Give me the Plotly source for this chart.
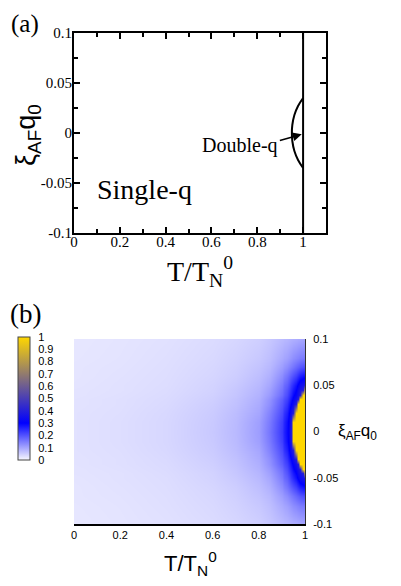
import plotly.graph_objects as go

# ---------------- data ----------------
# panel (a): phase boundary
line_T = [1.0, 1.0]
line_xi = [-0.1, 0.1]
bulge_T = [1.0, 0.978, 0.962, 0.953, 0.951, 0.953, 0.962, 0.978, 1.0]
bulge_xi = [0.035, 0.027, 0.018, 0.008, 0.0, -0.008, -0.018, -0.027, -0.035]

xa_tickvals = [0, 0.2, 0.4, 0.6, 0.8, 1.0]
xa_ticktext = ["0", "0.2", "0.4", "0.6", "0.8", "1"]
ya_tickvals = [-0.1, -0.05, 0, 0.05, 0.1]
ya_ticktext = ["-0.1", "-0.05", "0", "0.05", "0.1"]

# panel (b): heat map (upper half in xi, mirrored about xi = 0)
T_grid = [0, 0.2, 0.4, 0.6, 0.7, 0.8, 0.85, 0.9, 0.91, 0.92, 0.93, 0.94,
          0.95, 0.96, 0.97, 0.98, 0.99, 1.0]
xi_half = [0, 0.01, 0.02, 0.03, 0.035, 0.04, 0.045, 0.05, 0.06, 0.07, 0.08, 0.1]
z_xi_000 = [0.027, 0.032, 0.040, 0.058, 0.076, 0.110, 0.160, 0.230, 0.260, 0.290, 0.330, 0.400, 1, 1, 1, 1, 1, 1]
z_xi_010 = [0.027, 0.032, 0.040, 0.057, 0.075, 0.108, 0.155, 0.225, 0.255, 0.285, 0.320, 0.390, 1, 1, 1, 1, 1, 1]
z_xi_020 = [0.027, 0.031, 0.039, 0.055, 0.072, 0.100, 0.145, 0.210, 0.240, 0.265, 0.300, 0.350, 0.400, 1, 1, 1, 1, 1]
z_xi_030 = [0.026, 0.030, 0.037, 0.052, 0.067, 0.093, 0.130, 0.195, 0.215, 0.240, 0.270, 0.300, 0.340, 0.400, 1, 1, 1, 1]
z_xi_035 = [0.026, 0.030, 0.036, 0.050, 0.065, 0.089, 0.125, 0.185, 0.205, 0.225, 0.250, 0.280, 0.310, 0.350, 0.400, 1, 1, 1]
z_xi_040 = [0.025, 0.029, 0.035, 0.048, 0.062, 0.085, 0.115, 0.170, 0.190, 0.210, 0.235, 0.260, 0.290, 0.320, 0.360, 0.400, 1, 1]
z_xi_045 = [0.025, 0.028, 0.034, 0.046, 0.060, 0.081, 0.108, 0.160, 0.180, 0.200, 0.220, 0.245, 0.270, 0.300, 0.340, 0.370, 0.400, 1]
z_xi_050 = [0.024, 0.028, 0.033, 0.045, 0.057, 0.077, 0.100, 0.150, 0.170, 0.185, 0.205, 0.230, 0.250, 0.280, 0.310, 0.340, 0.360, 0.380]
z_xi_060 = [0.023, 0.027, 0.032, 0.042, 0.052, 0.070, 0.088, 0.130, 0.145, 0.160, 0.175, 0.190, 0.205, 0.225, 0.245, 0.265, 0.280, 0.290]
z_xi_070 = [0.023, 0.026, 0.031, 0.040, 0.049, 0.064, 0.078, 0.110, 0.120, 0.130, 0.140, 0.150, 0.160, 0.175, 0.185, 0.195, 0.205, 0.210]
z_xi_080 = [0.022, 0.025, 0.030, 0.038, 0.046, 0.058, 0.070, 0.094, 0.100, 0.106, 0.113, 0.120, 0.128, 0.136, 0.142, 0.148, 0.152, 0.155]
z_xi_100 = [0.021, 0.024, 0.028, 0.035, 0.041, 0.050, 0.060, 0.074, 0.077, 0.080, 0.083, 0.086, 0.089, 0.092, 0.095, 0.097, 0.099, 0.100]
z_half = [z_xi_000, z_xi_010, z_xi_020, z_xi_030, z_xi_035, z_xi_040, z_xi_045,
          z_xi_050, z_xi_060, z_xi_070, z_xi_080, z_xi_100]

xb_tickvals = [0, 0.2, 0.4, 0.6, 0.8, 1.0]
xb_ticktext = ["0", "0.2", "0.4", "0.6", "0.8", "1"]
yb_tickvals = [-0.1, -0.05, 0, 0.05, 0.1]
yb_ticktext = ["-0.1", "-0.05", "0", "0.05", "0.1"]
cb_tickvals = [0, 0.1, 0.2, 0.3, 0.4, 0.5, 0.6, 0.7, 0.8, 0.9, 1.0]
cb_ticktext = ["0", "0.1", "0.2", "0.3", "0.4", "0.5", "0.6", "0.7", "0.8", "0.9", "1"]

# mirror the half grid
xi_full = [-v for v in reversed(xi_half[1:])] + xi_half
z_full = list(reversed(z_half[1:])) + z_half

# ---------------- layout helpers ----------------
# the page body has an 8 px default margin, so window pixel (X, Y) maps to
# figure pixel (X - 8, Y - 8)
W, H = 401, 586
OFF = 8
def px(x):
    return (x - OFF) / W
def py(y):
    return 1 - (y - OFF) / H

SERIF = "Liberation Serif"
SANS = "Liberation Sans"

fig = go.Figure()

fig.add_trace(go.Scatter(x=line_T, y=line_xi, mode="lines",
                         line=dict(color="black", width=2),
                         xaxis="x", yaxis="y", showlegend=False, hoverinfo="skip"))
fig.add_trace(go.Scatter(x=bulge_T, y=bulge_xi, mode="lines",
                         line=dict(color="black", width=2, shape="spline"),
                         xaxis="x", yaxis="y", showlegend=False, hoverinfo="skip"))

fig.add_trace(go.Heatmap(
    x=T_grid, y=xi_full, z=z_full, xaxis="x2", yaxis="y2",
    zmin=0, zmax=1, zsmooth="best",
    colorscale=[[0, "#f8f8ff"], [0.3, "#0000ff"], [1.0, "#ffd700"]],
    colorbar=dict(
        x=px(18), xanchor="left", xpad=0, ypad=0,
        y=py(398.5), yanchor="middle",
        lenmode="pixels", len=123, thickness=12,
        outlinecolor="#444", outlinewidth=1,
        tickvals=cb_tickvals, ticktext=cb_ticktext,
        ticks="outside", ticklen=6, tickcolor="rgba(0,0,0,0)",
        tickfont=dict(family=SANS, size=11, color="black"),
    ),
    hoverinfo="skip",
))

fig.update_layout(
    width=W, height=H, autosize=False,
    margin=dict(l=0, r=0, t=0, b=0, pad=0, autoexpand=False),
    paper_bgcolor="white", plot_bgcolor="white",
    xaxis=dict(domain=[px(74), px(326)], anchor="y", range=[0, 1.1],
               automargin=False,
               showgrid=False, zeroline=False, showline=True, linecolor="black",
               linewidth=2, mirror="ticks", ticks="inside", ticklen=6,
               tickwidth=1.5, tickcolor="black",
               tickfont=dict(family=SERIF, size=15, color="black"),
               tickvals=xa_tickvals, ticktext=xa_ticktext,
               minor=dict(dtick=0.1, tick0=0, ticks="inside", ticklen=4,
                          tickwidth=1.5, tickcolor="black")),
    yaxis=dict(domain=[py(233), py(33)], anchor="x", range=[-0.1, 0.1],
               automargin=False,
               showgrid=False, zeroline=False, showline=True, linecolor="black",
               linewidth=2, mirror="ticks", ticks="inside", ticklen=6,
               tickwidth=1.5, tickcolor="black",
               tickfont=dict(family=SERIF, size=15, color="black"),
               tickvals=ya_tickvals, ticktext=ya_ticktext,
               minor=dict(dtick=0.025, tick0=0, ticks="inside", ticklen=4,
                          tickwidth=1.5, tickcolor="black")),
    xaxis2=dict(domain=[px(74), px(305)], anchor="y2", range=[0, 1],
                automargin=False,
                showgrid=False, zeroline=False, showline=True,
                linecolor="black", linewidth=1.5, ticks="",
                tickvals=xb_tickvals, ticktext=xb_ticktext,
                tickfont=dict(family=SANS, size=11, color="black")),
    yaxis2=dict(domain=[py(524), py(339)], anchor="x2", range=[-0.1, 0.1],
                automargin=False,
                side="right", showgrid=False, zeroline=False, showline=True,
                linecolor="#333", linewidth=1, ticks="",
                ticklabelstandoff=5,
                tickvals=yb_tickvals, ticktext=yb_ticktext,
                tickfont=dict(family=SANS, size=11, color="black")),
)

# pull panel (a) tick labels closer to the axis lines
try:
    fig.update_layout(xaxis_ticklabelstandoff=-6, yaxis_ticklabelstandoff=-3)
except ValueError:
    pass

ann = []
def txt(x, y, text, size, family, angle=0, xanchor="center"):
    ann.append(dict(x=px(x), y=py(y), xref="paper", yref="paper", text=text,
                    showarrow=False, xanchor=xanchor, yanchor="middle",
                    textangle=angle,
                    font=dict(family=family, size=size, color="black")))

txt(25, 24, "(a)", 25, SERIF)
txt(25, 314, "(b)", 27, SERIF)
txt(200, 271, "T/T<sub>N</sub><sup>0</sup>", 28, SERIF)
txt(28, 135, "ξ<sub>AF</sub>q<sub>0</sub>", 27, SANS, angle=-90)
txt(144.5, 190, "Single-q", 28, SERIF)
txt(240, 146, "Double-q", 20, SERIF)
txt(190, 563, "T/T<sub>N</sub><sup>0</sup>", 22, SANS)
txt(336, 432, "ξ<sub>AF</sub>q<sub>0</sub>", 17, SANS, xanchor="left")

# arrow pointing to the double-q region
ann.append(dict(x=0.994, y=-0.0013, xref="x", yref="y",
                ax=0.892, ay=-0.008, axref="x", ayref="y",
                text="", showarrow=True, arrowhead=2, arrowsize=1.2,
                arrowwidth=1.5, arrowcolor="black"))

fig.update_layout(annotations=ann)

fig.write_html("out.html")
